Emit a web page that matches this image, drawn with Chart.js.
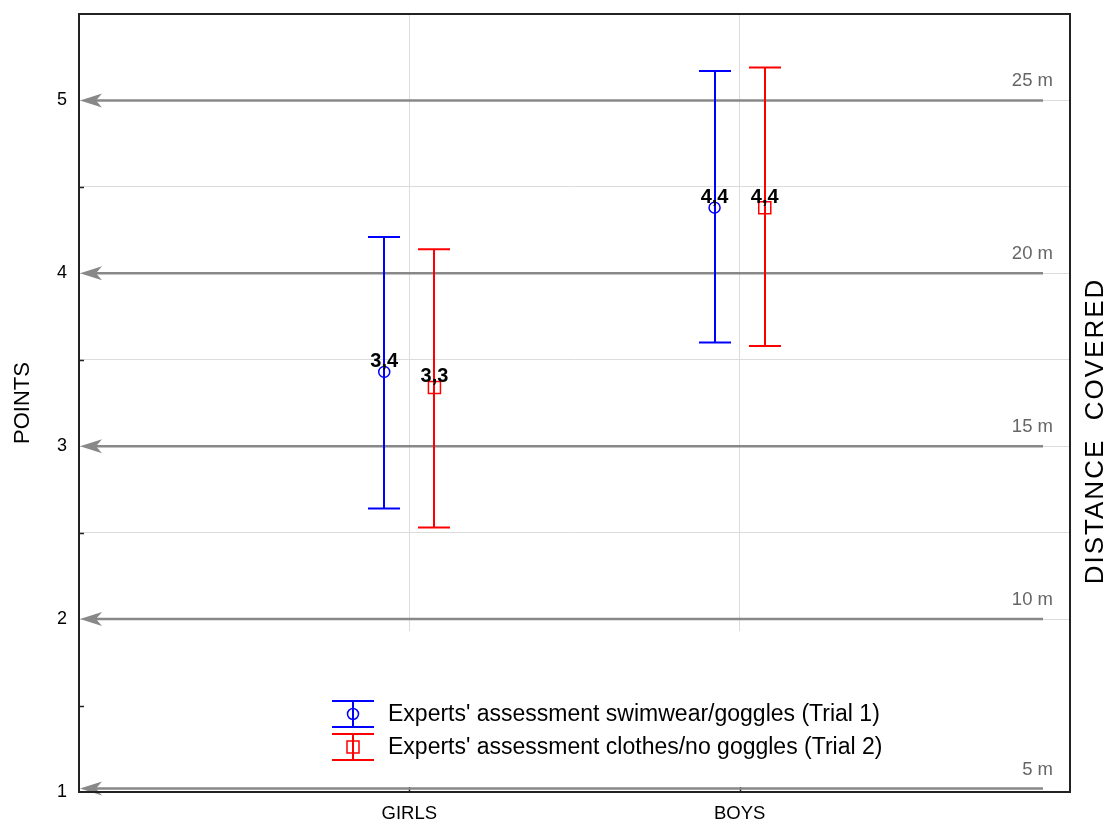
<!DOCTYPE html>
<html>
<head>
<meta charset="utf-8">
<style>
  html, body { margin: 0; padding: 0; background: #fff; }
  #wrap { width: 1106px; height: 823px; }
</style>
<script src="https://cdn.jsdelivr.net/npm/chart.js@4.4.1/dist/chart.umd.min.js"></script>
</head>
<body>
<div id="wrap"><canvas id="c" width="1106" height="823"></canvas></div>
<script>
// ---- data ----
const categories = ['GIRLS', 'BOYS'];
const seriesNames = ["Experts' assessment swimwear/goggles (Trial 1)", "Experts' assessment clothes/no goggles (Trial 2)"];
const trial1Mean  = [3.43, 4.38];
const trial1Upper = [4.21, 5.17];
const trial1Lower = [2.64, 3.60];
const trial2Mean  = [3.34, 4.38];
const trial2Upper = [4.14, 5.19];
const trial2Lower = [2.53, 3.58];
const distanceValues = [5, 4, 3, 2, 1.02];
const distanceLabels = ['25 m', '20 m', '15 m', '10 m', '5 m'];
const yTickLabels = [1, 2, 3, 4, 5];

const FONT = '"Liberation Sans", Arial, Helvetica, sans-serif';
const OFFSET = 0.076;

function pts(means, off) {
  return means.map((m, i) => ({ x: i + 1 + off, y: m }));
}

const errData = [
  { upper: trial1Upper, lower: trial1Lower, color: '#0000ff' },
  { upper: trial2Upper, lower: trial2Lower, color: '#ff0000' }
];

const bgPlugin = {
  id: 'bgcover',
  beforeDatasetsDraw(chart) {
    const { ctx, chartArea: a, scales: { y } } = chart;
    ctx.save();
    const yc = y.getPixelForValue(1.93);
    ctx.fillStyle = '#fff';
    ctx.fillRect(a.left, yc, a.right - a.left, a.bottom - yc);
    ctx.strokeStyle = '#222';
    ctx.lineWidth = 1.5;
    [1.5, 2.5, 3.5, 4.5].forEach(v => {
      const py = Math.round(y.getPixelForValue(v)) + 0.5;
      ctx.beginPath(); ctx.moveTo(a.left, py); ctx.lineTo(a.left + 5, py); ctx.stroke();
    });
    const xs = chart.scales.x;
    categories.forEach((c, i) => {
      const px = Math.round(xs.getPixelForValue(i + 1)) + 0.5;
      ctx.beginPath(); ctx.moveTo(px, a.bottom); ctx.lineTo(px, a.bottom - 5); ctx.stroke();
    });
    ctx.strokeStyle = '#888';
    ctx.fillStyle = '#888';
    ctx.lineWidth = 2.5;
    distanceValues.forEach((v, i) => {
      const py = y.getPixelForValue(v);
      const x0 = a.left + 1, x1 = 1043;
      ctx.beginPath(); ctx.moveTo(x0 + 10, py); ctx.lineTo(x1, py); ctx.stroke();
      ctx.beginPath();
      ctx.moveTo(x0, py);
      ctx.lineTo(x0 + 22, py - 7);
      ctx.lineTo(x0 + 16, py);
      ctx.lineTo(x0 + 22, py + 7);
      ctx.closePath(); ctx.fill();
      ctx.font = '18.5px ' + FONT;
      ctx.fillStyle = '#666';
      ctx.textAlign = 'right';
      ctx.textBaseline = 'alphabetic';
      ctx.fillText(distanceLabels[i], 1053, py - 14);
      ctx.fillStyle = '#888';
    });
    chart.data.datasets.forEach((ds, di) => {
      const meta = chart.getDatasetMeta(di);
      const e = errData[di];
      ctx.strokeStyle = e.color;
      ctx.lineWidth = 2;
      meta.data.forEach((el, i) => {
        const px = Math.round(el.x);
        const pu = y.getPixelForValue(e.upper[i]);
        const pl = y.getPixelForValue(e.lower[i]);
        ctx.beginPath();
        ctx.moveTo(px, pu); ctx.lineTo(px, pl);
        ctx.moveTo(px - 16, pu); ctx.lineTo(px + 16, pu);
        ctx.moveTo(px - 16, pl); ctx.lineTo(px + 16, pl);
        ctx.stroke();
      });
    });
    ctx.restore();
  },
  afterDatasetsDraw(chart) {
    const { ctx, chartArea: a } = chart;
    ctx.save();
    ctx.font = 'bold 20px ' + FONT;
    ctx.fillStyle = '#000';
    ctx.textAlign = 'center';
    ctx.textBaseline = 'alphabetic';
    chart.data.datasets.forEach((ds, di) => {
      const meta = chart.getDatasetMeta(di);
      meta.data.forEach((el, i) => {
        const t = ds.data[i].y.toFixed(1).replace('.', ',');
        ctx.fillText(t, el.x, el.y - 5);
      });
    });
    const lx = 332, lw = 42, tx = 388;
    const rows = [714, 747];
    ctx.font = '23px ' + FONT;
    ctx.textAlign = 'left';
    ctx.textBaseline = 'middle';
    rows.forEach((cy, i) => {
      const col = errData[i].color;
      ctx.strokeStyle = col;
      ctx.lineWidth = 2;
      const cx = lx + lw / 2;
      ctx.beginPath();
      ctx.moveTo(lx, cy - 13); ctx.lineTo(lx + lw, cy - 13);
      ctx.moveTo(lx, cy + 13); ctx.lineTo(lx + lw, cy + 13);
      ctx.moveTo(cx, cy - 13); ctx.lineTo(cx, cy + 13);
      ctx.stroke();
      ctx.lineWidth = 1.5;
      ctx.beginPath();
      if (i === 0) ctx.arc(cx, cy, 5.5, 0, Math.PI * 2);
      else ctx.rect(cx - 6, cy - 6, 12, 12);
      ctx.stroke();
      ctx.fillStyle = '#000';
      ctx.fillText(seriesNames[i], tx, cy + 1);
    });
    ctx.strokeStyle = '#222';
    ctx.lineWidth = 2;
    ctx.strokeRect(a.left, a.top, a.right - a.left, a.bottom - a.top);
    ctx.fillStyle = '#000';
    ctx.textAlign = 'center';
    ctx.textBaseline = 'middle';
    ctx.save();
    ctx.font = '22px ' + FONT;
    ctx.translate(23, 403); ctx.rotate(-Math.PI / 2);
    ctx.fillText('POINTS', 0, 0);
    ctx.restore();
    ctx.save();
    ctx.font = '26px ' + FONT;
    try { ctx.letterSpacing = '2px'; } catch (e) {}
    ctx.translate(1096, 431); ctx.rotate(-Math.PI / 2);
    ctx.fillText('DISTANCE  COVERED', 0, 0);
    ctx.restore();
    ctx.restore();
  }
};

new Chart(document.getElementById('c'), {
  type: 'scatter',
  data: {
    datasets: [
      {
        label: seriesNames[0],
        data: pts(trial1Mean, -OFFSET),
        pointStyle: 'circle',
        radius: 5.5,
        borderColor: '#0000ff',
        backgroundColor: 'rgba(0,0,0,0)',
        borderWidth: 1.5,
        hoverRadius: 5.5
      },
      {
        label: seriesNames[1],
        data: pts(trial2Mean, OFFSET),
        pointStyle: 'rect',
        radius: 8.5,
        borderColor: '#ff0000',
        backgroundColor: 'rgba(0,0,0,0)',
        borderWidth: 1.5,
        hoverRadius: 8.5
      }
    ]
  },
  options: {
    responsive: false,
    animation: false,
    devicePixelRatio: 1,
    layout: { padding: { left: 0, right: 36, top: 14, bottom: 0 } },
    plugins: { legend: { display: false }, tooltip: { enabled: false } },
    scales: {
      x: {
        type: 'linear',
        min: 0, max: 3,
        afterBuildTicks(scale) { scale.ticks = categories.map((c, i) => ({ value: i + 1 })); },
        afterFit(scale) { scale.height = 31; scale.paddingLeft = 0; scale.paddingRight = 0; },
        ticks: {
          callback: (v) => categories[v - 1] || '',
          font: { family: FONT, size: 18.5 },
          color: '#000',
          padding: 11,
          maxRotation: 0
        },
        grid: { color: '#dcdcdc', lineWidth: 1, drawTicks: false },
        border: { display: false }
      },
      y: {
        min: 1, max: 5.5,
        afterBuildTicks(scale) {
          const t = [];
          for (let v = 1; v <= 5.5; v += 0.5) t.push({ value: v });
          scale.ticks = t;
        },
        afterFit(scale) { scale.width = 79; scale.paddingTop = 0; scale.paddingBottom = 0; },
        ticks: {
          callback: (v) => yTickLabels.includes(v) ? String(v) : '',
          font: { family: FONT, size: 18 },
          color: '#000',
          padding: 12
        },
        grid: { color: '#dcdcdc', lineWidth: 1, drawTicks: false },
        border: { display: false }
      }
    }
  },
  plugins: [bgPlugin]
});
</script>
</body>
</html>
